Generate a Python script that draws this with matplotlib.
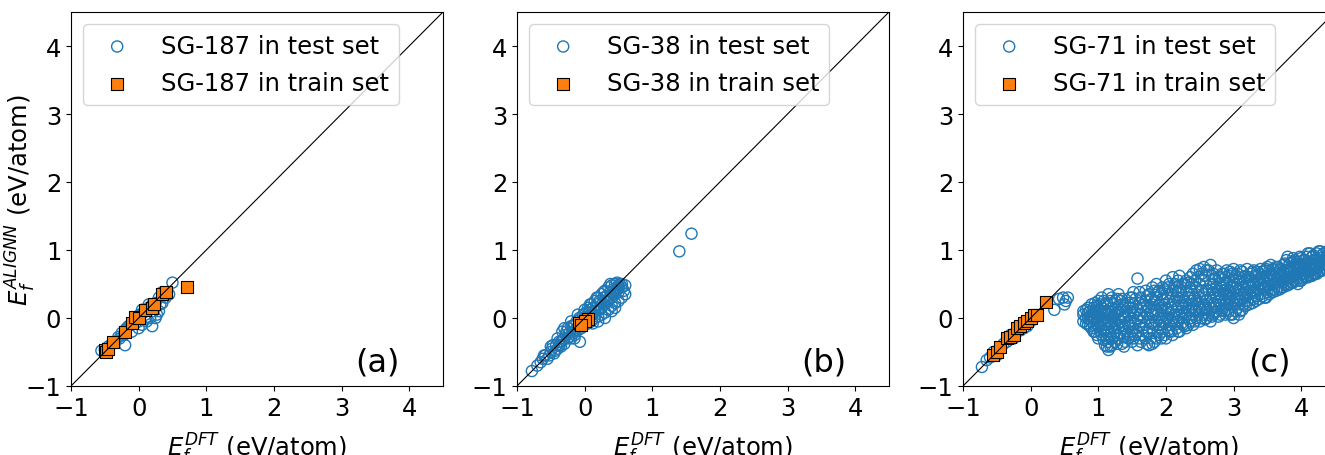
import numpy as np
import matplotlib
matplotlib.use("Agg")
import matplotlib.pyplot as plt

# ---- panel (a): SG-187
a_test_x = [-0.55, -0.5, -0.45, -0.4, -0.35, -0.3, -0.28, -0.25, -0.22, -0.2, -0.18, -0.15,
            -0.12, -0.1, -0.08, -0.05, -0.03, 0.0, 0.02, 0.05, 0.07, 0.1, 0.12, 0.15, 0.17,
            0.2, 0.22, 0.25, 0.27, 0.3, 0.32, 0.35, 0.4, 0.45, 0.5, -0.2, 0.0, 0.1, 0.2,
            0.25, 0.05, 0.15, 0.3, 0.35]
a_test_y = [-0.48, -0.46, -0.42, -0.38, -0.36, -0.28, -0.3, -0.22, -0.25, -0.4, -0.15, -0.12,
            -0.1, -0.2, -0.05, -0.08, 0.02, -0.15, 0.05, -0.1, 0.08, 0.05, -0.05, 0.15, 0.0,
            0.2, 0.1, 0.22, 0.05, 0.3, 0.2, 0.38, 0.3, 0.35, 0.52, -0.18, -0.05, -0.02, -0.12,
            0.0, 0.12, 0.2, 0.1, 0.22]
a_train_x = [-0.5, -0.48, -0.45, -0.38, -0.2, -0.1, -0.05, 0.0, 0.1, 0.2, 0.22, 0.35, 0.4, 0.72]
a_train_y = [-0.47, -0.5, -0.45, -0.36, -0.2, -0.08, 0.02, 0.0, 0.12, 0.15, 0.2, 0.35, 0.38, 0.46]

# ---- panel (b): SG-38
b_test_x = [-0.78, -0.7, -0.62, -0.58, -0.55, -0.5, -0.48, -0.45, -0.42, -0.4, -0.38, -0.35,
            -0.33, -0.3, -0.3, -0.28, -0.25, -0.25, -0.22, -0.2, -0.2, -0.18, -0.15, -0.15,
            -0.12, -0.1, -0.1, -0.08, -0.05, -0.05, -0.02, 0.0, 0.0, 0.02, 0.05, 0.05, 0.08,
            0.1, 0.1, 0.12, 0.15, 0.15, 0.18, 0.2, 0.2, 0.22, 0.25, 0.25, 0.28, 0.3, 0.3, 0.32,
            0.35, 0.35, 0.38, 0.4, 0.4, 0.42, 0.45, 0.45, 0.48, 0.5, 0.52, 0.55, 0.6, -0.35,
            -0.07, 0.1, 0.15, 0.2, 0.05, 0.25, 0.3, 0.35, 0.45, 0.5, 0.4, 0.55,
            -0.65, -0.6, -0.52, -0.47, -0.43, -0.37, -0.32, -0.27, -0.23, -0.17, -0.13, -0.07,
            -0.03, 0.03, 0.07, 0.12, 0.17, 0.22, 0.27, 0.32, 0.37, 0.42, 0.47, 0.5, 0.55, 0.58,
            0.6, 0.45, 0.4, 0.5, 0.3, 0.2, -0.1, 0.0, 0.08, 0.18, 0.28, 0.38, 0.48, -0.2, -0.3,
            -0.4, -0.5, -0.15, 0.12, 1.4, 1.58]
b_test_y = [-0.78, -0.7, -0.6, -0.55, -0.6, -0.5, -0.45, -0.52, -0.4, -0.45, -0.35, -0.42,
            -0.2, -0.3, -0.38, -0.25, -0.3, -0.15, -0.22, -0.12, -0.3, -0.2, -0.1, -0.25,
            -0.05, -0.12, -0.18, 0.0, -0.05, -0.15, 0.05, 0.0, -0.1, 0.08, 0.02, -0.08, 0.12,
            0.05, -0.05, 0.15, 0.1, 0.0, 0.2, 0.12, 0.02, 0.25, 0.15, 0.05, 0.3, 0.2, 0.08, 0.32,
            0.25, 0.12, 0.38, 0.3, 0.18, 0.42, 0.35, 0.22, 0.45, 0.38, 0.5, 0.3, 0.48, -0.35,
            -0.35, 0.2, 0.25, 0.3, 0.15, 0.35, 0.4, 0.45, 0.5, 0.48, 0.48, 0.45,
            -0.65, -0.55, -0.55, -0.4, -0.48, -0.4, -0.32, -0.2, -0.28, -0.12, -0.18, -0.02,
            -0.08, 0.02, 0.08, 0.05, 0.15, 0.12, 0.22, 0.25, 0.3, 0.35, 0.4, 0.45, 0.5, 0.4,
            0.35, 0.15, 0.1, 0.25, 0.0, -0.05, 0.05, 0.12, 0.2, 0.3, 0.38, 0.5, 0.52, -0.05, -0.15,
            -0.3, -0.42, -0.3, -0.08, 0.98, 1.24]
b_train_x = [-0.08, 0.05, 0.0, -0.05]
b_train_y = [-0.08, -0.02, -0.05, -0.1]

# ---- panel (c): SG-71
c_diag_x = [-0.72, -0.65, -0.6, -0.55, -0.5, -0.45, -0.4, -0.35, -0.3, -0.25, -0.2, -0.15,
            -0.1, -0.05, 0.0, 0.35, 0.42, 0.48, 0.52, 0.55, 0.5]
c_diag_y = [-0.72, -0.62, -0.58, -0.5, -0.55, -0.45, -0.38, -0.35, -0.25, -0.3, -0.2, -0.18,
            -0.15, -0.12, -0.05, 0.12, 0.28, 0.3, 0.25, 0.3, 0.2]
c_cols_x = [0.78, 0.85, 0.9, 0.95, 1.0, 1.05, 1.1, 1.15, 1.2, 1.25, 1.3, 1.35, 1.4, 1.47,
            1.52, 1.58, 1.63, 1.7, 1.75, 1.8, 1.86, 1.9, 1.95, 2.0, 2.05, 2.1, 2.16, 2.2, 2.25,
            2.3, 2.36, 2.4, 2.45, 2.5, 2.56, 2.6, 2.66, 2.7, 2.75, 2.8, 2.86, 2.9, 2.95, 3.0,
            3.06, 3.1, 3.15, 3.2, 3.26, 3.3, 3.35, 3.4, 3.46, 3.5, 3.55, 3.6, 3.66, 3.7, 3.76,
            3.8, 3.86, 3.9, 3.95, 4.0, 4.06, 4.1, 4.16, 4.2, 4.26, 4.3, 4.36, 4.42]
c_cols_y = [
    [0.1, -0.05, 0.05], [0.15, -0.1, 0.0, 0.08], [0.2, -0.15, 0.05, -0.05],
    [0.22, -0.2, 0.1, -0.02, 0.0], [0.25, -0.3, 0.12, 0.0, -0.12],
    [0.3, -0.25, 0.15, -0.05, 0.05, -0.15], [0.2, -0.4, 0.08, -0.1, 0.0, -0.25],
    [0.35, -0.47, 0.1, -0.05, -0.2, -0.35], [0.3, -0.4, 0.15, 0.0, -0.12, -0.3],
    [0.25, -0.35, 0.05, -0.08, -0.2, 0.12], [0.35, -0.3, 0.1, -0.02, -0.15],
    [0.28, -0.38, 0.05, -0.1, 0.18], [0.2, -0.35, 0.0, -0.2, 0.1],
    [0.3, -0.25, -0.05, 0.1, -0.12], [0.38, -0.3, 0.05, -0.15, 0.2],
    [0.58, -0.4, 0.0, 0.12, -0.2], [0.3, -0.35, -0.05, 0.15, 0.05],
    [0.4, -0.3, 0.1, -0.1, 0.25], [0.35, -0.4, 0.0, 0.15, -0.2],
    [0.45, -0.38, 0.05, 0.2, -0.15], [0.5, -0.3, 0.12, -0.05, 0.3],
    [0.4, -0.25, 0.0, 0.2, -0.1], [0.45, -0.2, 0.1, 0.28, -0.05],
    [0.55, -0.3, 0.15, 0.0, 0.35], [0.5, -0.2, 0.08, 0.25, -0.1],
    [0.6, -0.25, 0.2, 0.0, 0.4], [0.45, -0.15, 0.1, 0.3, -0.05],
    [0.62, -0.2, 0.25, 0.05, 0.4], [0.5, -0.1, 0.15, 0.3, 0.0],
    [0.55, -0.15, 0.2, 0.4, 0.05], [0.6, -0.05, 0.3, 0.1, 0.45],
    [0.65, -0.1, 0.2, 0.35, 0.05], [0.7, 0.0, 0.25, 0.45, 0.12],
    [0.72, -0.05, 0.3, 0.15, 0.5], [0.75, 0.05, 0.35, 0.2, 0.55],
    [0.7, 0.0, 0.25, 0.42, 0.12], [0.78, -0.05, 0.3, 0.5, 0.15],
    [0.65, 0.05, 0.38, 0.2, 0.5], [0.7, 0.1, 0.3, 0.45, 0.2],
    [0.6, 0.05, 0.35, 0.5, 0.2], [0.65, 0.1, 0.4, 0.25, 0.52],
    [0.7, 0.12, 0.35, 0.5, 0.22], [0.68, 0.05, 0.3, 0.45, 0.2],
    [0.72, 0.0, 0.38, 0.55, 0.2], [0.65, 0.15, 0.4, 0.5, 0.28],
    [0.7, 0.1, 0.35, 0.55, 0.25], [0.6, 0.2, 0.45, 0.35], [0.72, 0.25, 0.5, 0.38],
    [0.65, 0.3, 0.45, 0.55], [0.7, 0.28, 0.5, 0.4], [0.68, 0.32, 0.55, 0.45],
    [0.72, 0.35, 0.5, 0.6], [0.7, 0.3, 0.55, 0.42], [0.75, 0.38, 0.6, 0.5],
    [0.78, 0.4, 0.55, 0.65], [0.7, 0.42, 0.6, 0.5], [0.75, 0.45, 0.62, 0.55],
    [0.72, 0.45, 0.58, 0.65], [0.8, 0.5, 0.65, 0.58], [0.9, 0.48, 0.7, 0.6],
    [0.82, 0.52, 0.68, 0.6], [0.85, 0.55, 0.72, 0.62], [0.8, 0.5, 0.7, 0.65],
    [0.88, 0.55, 0.75, 0.65], [0.85, 0.6, 0.72, 0.8], [0.95, 0.6, 0.75, 0.68],
    [0.9, 0.62, 0.78, 0.7], [0.85, 0.65, 0.8, 0.72], [0.98, 0.68, 0.82, 0.75],
    [0.92, 0.7, 0.8, 0.85], [0.88, 0.72, 0.82, 0.78], [0.95, 0.75, 0.85, 0.8],
]
# second, offset set of columns filling the gaps in panel (c)
c_cols2_x = [0.82, 0.88, 0.93, 0.98, 1.03, 1.08, 1.13, 1.18, 1.23, 1.28, 1.33, 1.38, 1.44,
             1.5, 1.55, 1.61, 1.66, 1.72, 1.78, 1.83, 1.88, 1.93, 1.98, 2.03, 2.08, 2.13, 2.18,
             2.23, 2.28, 2.33, 2.38, 2.43, 2.48, 2.53, 2.58, 2.63, 2.68, 2.73, 2.78, 2.83, 2.88,
             2.93, 2.98, 3.03, 3.08, 3.13, 3.18, 3.23, 3.28, 3.33, 3.38, 3.43, 3.48, 3.53, 3.58,
             3.63, 3.68, 3.73, 3.78, 3.83, 3.88, 3.93, 3.98, 4.03, 4.08, 4.13, 4.18, 4.23, 4.28,
             4.33, 4.38]
c_cols2_y = [
    [0.0, -0.08, 0.12], [-0.02, 0.1, -0.12, 0.03], [-0.1, 0.15, 0.02, -0.2],
    [-0.08, 0.05, 0.18, -0.25], [-0.2, 0.02, 0.2, -0.08, 0.1], [-0.32, -0.18, 0.1, 0.25, -0.02],
    [-0.42, -0.15, 0.05, 0.22, -0.3], [-0.25, -0.08, 0.05, 0.25, -0.42],
    [-0.28, -0.15, 0.02, 0.2, -0.05], [-0.25, -0.1, 0.08, 0.28, -0.38],
    [-0.22, -0.05, 0.12, 0.25], [-0.28, -0.15, 0.02, 0.15, -0.42], [-0.3, -0.08, 0.05, 0.22],
    [-0.35, -0.2, 0.0, 0.15, 0.3], [-0.25, -0.08, 0.08, 0.28], [-0.3, -0.12, 0.05, 0.22, 0.38],
    [-0.25, -0.15, 0.0, 0.2], [-0.38, -0.2, 0.05, 0.18, 0.32], [-0.3, -0.08, 0.1, 0.28],
    [-0.35, -0.1, 0.1, 0.25, 0.4], [-0.2, 0.05, 0.18, 0.38], [-0.3, -0.15, 0.05, 0.15, 0.35],
    [-0.25, -0.08, 0.2, 0.42], [-0.18, 0.0, 0.12, 0.3, 0.45], [-0.2, -0.05, 0.15, 0.35],
    [-0.1, 0.05, 0.25, 0.5], [-0.2, 0.0, 0.18, 0.38, 0.55], [-0.08, 0.1, 0.2, 0.45],
    [-0.12, 0.08, 0.25, 0.5], [-0.1, 0.12, 0.3, 0.52], [0.0, 0.15, 0.25, 0.5],
    [-0.05, 0.1, 0.3, 0.55], [0.05, 0.2, 0.38, 0.6], [0.0, 0.12, 0.4, 0.65],
    [-0.02, 0.15, 0.3, 0.62], [0.05, 0.2, 0.4, 0.7], [0.02, 0.25, 0.42, 0.62],
    [0.08, 0.15, 0.35, 0.58], [0.02, 0.25, 0.4, 0.6], [0.12, 0.3, 0.45, 0.65],
    [0.05, 0.2, 0.42, 0.6], [0.1, 0.28, 0.4, 0.62], [0.05, 0.25, 0.45, 0.65],
    [0.1, 0.3, 0.45, 0.62], [0.05, 0.2, 0.42, 0.6], [0.12, 0.3, 0.5, 0.68],
    [0.18, 0.3, 0.42, 0.62], [0.2, 0.35, 0.48, 0.6], [0.22, 0.38, 0.5, 0.68],
    [0.25, 0.4, 0.52, 0.62], [0.28, 0.42, 0.55, 0.65], [0.32, 0.45, 0.58, 0.68],
    [0.3, 0.45, 0.62, 0.72], [0.35, 0.48, 0.58, 0.7], [0.38, 0.5, 0.62, 0.72],
    [0.4, 0.52, 0.65, 0.75], [0.42, 0.55, 0.62, 0.7], [0.45, 0.55, 0.68, 0.78],
    [0.48, 0.6, 0.7, 0.85], [0.5, 0.58, 0.72, 0.8], [0.52, 0.62, 0.75, 0.88],
    [0.55, 0.65, 0.75, 0.82], [0.55, 0.68, 0.78, 0.9], [0.58, 0.65, 0.78, 0.85],
    [0.6, 0.7, 0.82, 0.9], [0.62, 0.72, 0.8, 0.95], [0.65, 0.75, 0.85, 0.92],
    [0.65, 0.78, 0.85, 0.95], [0.7, 0.78, 0.88, 0.98], [0.7, 0.8, 0.9, 0.95],
    [0.72, 0.82, 0.9, 0.98],
]
c_train_x = [-0.55, -0.5, -0.45, -0.35, -0.3, -0.25, -0.2, -0.15, -0.1, -0.05, 0.0, 0.05, 0.1, 0.22]
c_train_y = [-0.55, -0.5, -0.42, -0.3, -0.28, -0.25, -0.15, -0.12, -0.08, -0.05, 0.0, 0.05, 0.05, 0.23]

# build the cloud of panel (c) from its columns
c_test_x = list(c_diag_x)
c_test_y = list(c_diag_y)
for cols_x, cols_y in [(c_cols_x, c_cols_y), (c_cols2_x, c_cols2_y)]:
    for cx, ys in zip(cols_x, cols_y):
        for cy in ys:
            c_test_x.append(cx)
            c_test_y.append(cy)

panels = [
    ("SG-187", "(a)", a_test_x, a_test_y, a_train_x, a_train_y),
    ("SG-38", "(b)", b_test_x, b_test_y, b_train_x, b_train_y),
    ("SG-71", "(c)", c_test_x, c_test_y, c_train_x, c_train_y),
]
lefts = [71, 517, 963]

plt.rcParams['font.size'] = 17.5
fig = plt.figure(figsize=(13.25, 4.56), dpi=100)

for i, (sg, tag, tx, ty, rx, ry) in enumerate(panels):
    ax = fig.add_axes([lefts[i] / 1325, 69 / 456, 372 / 1325, 374 / 456])
    ax.scatter(tx, ty, s=64, facecolors='none', edgecolors='tab:blue', linewidths=1.0,
               label=sg + " in test set")
    ax.scatter(rx, ry, s=64, marker='s', color='tab:orange', edgecolors='black',
               linewidths=0.8, label=sg + " in train set")
    ax.plot([-1, 4.5], [-1, 4.5], color='black', lw=0.8)
    ax.set_xlim(-1, 4.5)
    ax.set_ylim(-1, 4.5)
    ax.set_xticks([-1, 0, 1, 2, 3, 4])
    ax.set_yticks([-1, 0, 1, 2, 3, 4])
    ax.set_xlabel(r"$E_f^{DFT}$ (eV/atom)", labelpad=8)
    if i == 0:
        ax.set_ylabel(r"$E_f^{ALIGNN}$ (eV/atom)")
        ax.yaxis.set_label_coords(-0.09, 0.5)
    ax.legend(loc='upper left', handlelength=2.0, labelspacing=0.55)
    ax.text(0.825, 0.065, tag, transform=ax.transAxes, fontsize=23,
            ha='center', va='center')

fig.savefig("out.png", dpi=100)
